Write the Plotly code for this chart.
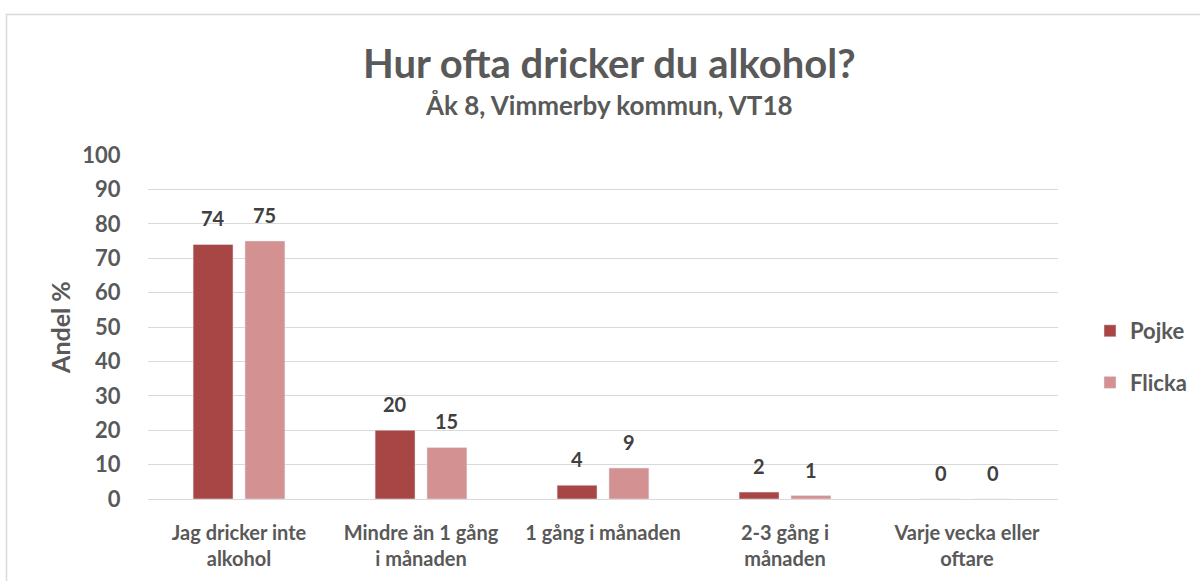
import plotly.graph_objects as go

categories = ["Jag dricker inte<br>alkohol", "Mindre än 1 gång<br>i månaden", "1 gång i månaden",
              "2-3 gång i<br>månaden", "Varje vecka eller<br>oftare"]
pojke = [74, 20, 4, 2, 0]
flicka = [75, 15, 9, 1, 0]
series_names = ["Pojke", "Flicka"]
y_ticks = [0, 10, 20, 30, 40, 50, 60, 70, 80, 90, 100]
title_text = "Hur ofta dricker du alkohol?"
subtitle_text = "Åk 8, Vimmerby kommun, VT18"

col_pojke = "#A84545"
col_flicka = "#D49191"
txt = "#595959"
font_fam = "Lato, 'Open Sans', sans-serif"

W, H = 1200, 581
L, R, T, B = 148, 142, 155, 82
pw = W - L - R
ph = H - T - B


def px_x(p):
    return (p - L) / pw


def px_y(p):
    return (H - B - p) / ph


fig = go.Figure()
fig.add_trace(go.Bar(x=categories, y=pojke, name=series_names[0], marker_color=col_pojke,
                     legendgroup="a"))
fig.add_trace(go.Bar(x=categories, y=flicka, name=series_names[1], marker_color=col_flicka,
                     legendgroup="b"))

bargap = 0.43
groupgap = 0.23
slot = (1 - bargap) / 2
for vals, sign in ((pojke, -1), (flicka, 1)):
    for i, v in enumerate(vals):
        fig.add_annotation(x=i + sign * slot / 2, y=v, text=str(v), showarrow=False,
                           yanchor="bottom", yshift=12, xref="x", yref="y",
                           font=dict(size=20, color="#404040", family=font_fam, weight="bold"))

# title & subtitle
fig.add_annotation(text=title_text, xref="paper", yref="paper", x=px_x(609), y=px_y(63),
                   xanchor="center", yanchor="middle", showarrow=False,
                   font=dict(size=40, color=txt, family=font_fam, weight="bold"))
fig.add_annotation(text=subtitle_text, xref="paper", yref="paper", x=px_x(609), y=px_y(105),
                   xanchor="center", yanchor="middle", showarrow=False,
                   font=dict(size=26, color=txt, family=font_fam, weight="bold"))

# outer border
fig.add_shape(type="rect", xref="paper", yref="paper",
              x0=px_x(6.5), x1=px_x(W + 10), y0=px_y(H + 10), y1=px_y(14.5),
              line=dict(color="#D9D9D9", width=1.5), fillcolor="rgba(0,0,0,0)", layer="below")

fig.update_layout(
    width=W, height=H,
    margin=dict(l=L, r=R, t=T, b=B, autoexpand=False),
    paper_bgcolor="white", plot_bgcolor="white",
    barmode="group", bargap=bargap, bargroupgap=groupgap,
    font=dict(family=font_fam, color=txt),
    legend=dict(x=px_x(1090), y=px_y(357), xanchor="left", yanchor="middle",
                font=dict(size=22, color=txt, family=font_fam, weight="bold"), tracegroupgap=20,
                bgcolor="rgba(0,0,0,0)"),
    showlegend=True,
)
fig.update_xaxes(type="category", showgrid=False, showline=False, automargin=False,
                 ticks="outside", ticklen=16, tickcolor="rgba(0,0,0,0)",
                 tickfont=dict(size=20, color=txt, family=font_fam, weight="bold"))
fig.update_yaxes(range=[0, 100], tickvals=y_ticks, showgrid=True, gridcolor="#D9D9D9", gridwidth=1.3,
                 zeroline=True, zerolinecolor="#D9D9D9", zerolinewidth=1.3, automargin=False,
                 ticks="outside", ticklen=22, tickcolor="rgba(0,0,0,0)",
                 tickfont=dict(size=22, color=txt, family=font_fam, weight="bold"),
                 title=dict(text="Andel %", font=dict(size=25, color=txt, family=font_fam, weight="bold"),
                            standoff=4))

fig.write_html("out.html", post_script="document.body.style.margin='0';",
               config={"displayModeBar": False})
